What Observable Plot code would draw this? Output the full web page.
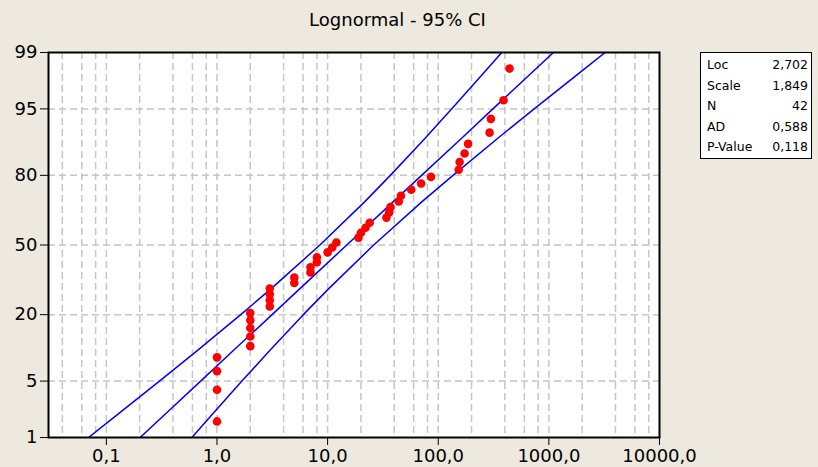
<!DOCTYPE html>
<html>
<head>
<meta charset="utf-8">
<script src="https://cdn.jsdelivr.net/npm/d3@7"></script>
<script src="https://cdn.jsdelivr.net/npm/@observablehq/plot@0.6"></script>
<style>
  html, body { margin: 0; padding: 0; background: #ffffff; }
  #wrap { position: relative; width: 818px; height: 467px; background: #ede9df; overflow: hidden; }
  #title { box-sizing: border-box; height: 36px; padding-top: 9px; line-height: 18px; width: 795px;
           text-align: center; font: 18px "DejaVu Sans", sans-serif; color: #000; }
  #legend { position: absolute; left: 700px; top: 52px; width: 112px; height: 107px; box-sizing: border-box;
            border: 1px solid #000; background: #fff; padding: 2px 3px 0 6px;
            font: 12.5px "DejaVu Sans", sans-serif; line-height: 20.5px; color: #000; }
  #legend .row { display: flex; justify-content: space-between; white-space: nowrap; }
</style>
</head>
<body>
<div id="wrap">
  <div id="title">Lognormal - 95% CI</div>
  <div id="chart"></div>
  <div id="legend"></div>
</div>
<script>
// ---- data ----
const obsValues = [1,1,1,1, 2,2,2,2,2, 3,3,3,3, 5,5, 7,7, 8,8, 10,11,12, 19,20,22,24, 34,36,37, 44,46, 57,70,86, 153,156,173,186, 291,299,389,441];
const obsPercent = [1.65,4.01,6.37,8.73,11.08,13.44,15.80,18.16,20.52,22.88,25.24,27.59,29.95,32.31,34.67,37.03,39.39,41.75,44.10,46.46,48.82,51.18,53.54,55.90,58.25,60.61,62.97,65.33,67.69,70.05,72.41,74.76,77.12,79.48,81.84,84.20,86.56,88.92,91.27,93.63,95.99,98.35];

const curvePercent = [1,2,5,10,20,30,50,70,80,90,95,98,99];
const lowerX = [0.069,0.125,0.302,0.655,1.64,3.11,8.52,21.7,36.9,75.0,132,248,375];
const fitX   = [0.202,0.334,0.712,1.39,3.15,5.65,14.9,39.3,70.7,160,312,665,1100];
const upperX = [0.593,0.896,1.68,2.97,6.03,10.3,26.1,71.4,136,339,736,1783,3226];

const xTicks = [0.1,1,10,100,1000,10000];
const xTickLabels = ["0,1","1,0","10,0","100,0","1000,0","10000,0"];
const yTickLabels = [1,5,20,50,80,95,99];
const yGridLabels = [5,20,50,80,95];
const xGridMultipliers = [1,2,4,6,8];
const xGridDecades = [0.01,0.1,1,10,100,1000];

const legendNames = ["Loc","Scale","N","AD","P-Value"];
const legendValues = ["2,702","1,849","42","0,588","0,118"];

// ---- normal quantile (probability-scale transform) ----
function probit(p){
  const a=[-3.969683028665376e+01,2.209460984245205e+02,-2.759285104469687e+02,1.383577518672690e+02,-3.066479806614716e+01,2.506628277459239e+00];
  const b=[-5.447609879822406e+01,1.615858368580409e+02,-1.556989798598866e+02,6.680131188771972e+01,-1.328068155288572e+01];
  const c=[-7.784894002430293e-03,-3.223964580411365e-01,-2.400758277161838e+00,-2.549671010115819e+00,4.374664141464968e+00,2.938163982698783e+00];
  const d=[7.784695709041462e-03,3.224671290700398e-01,2.445134137142996e+00,3.754408661907416e+00];
  const pl=0.02425, ph=1-pl; let q,r;
  if(p<pl){q=Math.sqrt(-2*Math.log(p));return (((((c[0]*q+c[1])*q+c[2])*q+c[3])*q+c[4])*q+c[5])/((((d[0]*q+d[1])*q+d[2])*q+d[3])*q+1);}
  if(p<=ph){q=p-0.5;r=q*q;return (((((a[0]*r+a[1])*r+a[2])*r+a[3])*r+a[4])*r+a[5])*q/(((((b[0]*r+b[1])*r+b[2])*r+b[3])*r+b[4])*r+1);}
  q=Math.sqrt(-2*Math.log(1-p));return -(((((c[0]*q+c[1])*q+c[2])*q+c[3])*q+c[4])*q+c[5])/((((d[0]*q+d[1])*q+d[2])*q+d[3])*q+1);
}
const z = p => probit(p/100);

const points = obsValues.map((v,i)=>({x:v, p:obsPercent[i]}));
const curves = [];
[["lower",lowerX],["fit",fitX],["upper",upperX]].forEach(([name,arr])=>{
  arr.forEach((v,i)=>curves.push({curve:name, x:v, p:curvePercent[i]}));
});
const xDomain = [0.03, 10000];
const xGrid = [];
xGridDecades.forEach(d=>xGridMultipliers.forEach(m=>{const v=+(d*m).toPrecision(3); if(v>xDomain[0] && v<xDomain[1]) xGrid.push(v);}));

const chart = Plot.plot({
  width: 818,
  height: 431,
  marginLeft: 48,
  marginRight: 159,
  marginTop: 16,
  marginBottom: 30,
  style: {background: "transparent", fontFamily: "DejaVu Sans, sans-serif", fontSize: "18px", color: "black", overflow: "visible"},
  x: {type: "log", domain: xDomain, ticks: xTicks, tickFormat: (d,i)=>xTickLabels[xTicks.indexOf(d)], tickSize: 8, tickPadding: 4, label: null},
  y: {type: "linear", domain: [z(1), z(99)], ticks: yTickLabels.map(z), tickFormat: (d,i)=>String(yTickLabels[i]), tickSize: 8, tickPadding: 3, label: null},
  marks: [
    Plot.frame({fill: "white", stroke: "none"}),
    Plot.ruleX(xGrid, {x: d=>d, stroke: "#c6c6c6", strokeWidth: 1.5, strokeDasharray: "7,4"}),
    Plot.ruleY(yGridLabels, {y: d=>z(d), stroke: "#c6c6c6", strokeWidth: 1.5, strokeDasharray: "7,4"}),
    Plot.line(curves, {x: "x", y: d=>z(d.p), z: "curve", stroke: "#0000ff", strokeWidth: 1.5, clip: true}),
    Plot.dot(points, {x: "x", y: d=>z(d.p), r: 4.3, fill: "#ff0000", stroke: "none"}),
    Plot.frame({stroke: "black", strokeWidth: 2})
  ]
});
document.getElementById("chart").appendChild(chart);

const leg = document.getElementById("legend");
legendNames.forEach((n,i)=>{
  const row = document.createElement("div");
  row.className = "row";
  const a = document.createElement("span"); a.textContent = n;
  const b = document.createElement("span"); b.textContent = legendValues[i];
  row.appendChild(a); row.appendChild(b);
  leg.appendChild(row);
});
</script>
</body>
</html>
